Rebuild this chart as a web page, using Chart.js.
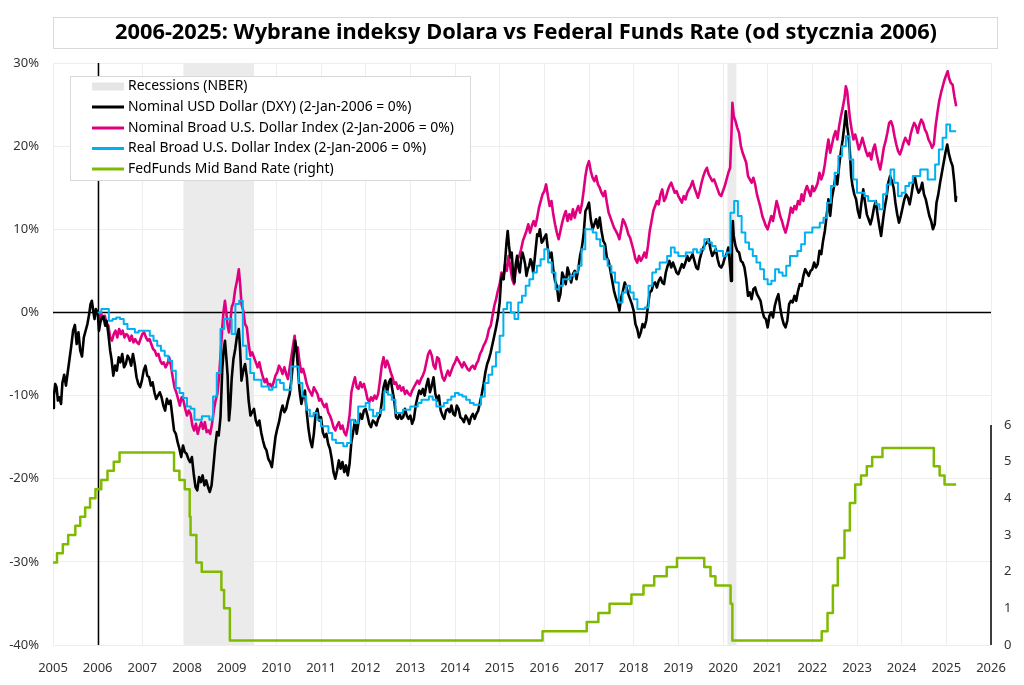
<!DOCTYPE html>
<html>
<head>
<meta charset="utf-8">
<script src="https://cdn.jsdelivr.net/npm/chart.js@4.4.1/dist/chart.umd.min.js"></script>
<style>
  html, body { margin: 0; padding: 0; background: #fff; }
  #wrap { width: 1024px; height: 685px; position: relative; }
</style>
</head>
<body>
<div id="wrap"><canvas id="c"></canvas></div>
<script>
// ---------- DATA ----------
const titleText = '2006-2025: Wybrane indeksy Dolara vs Federal Funds Rate (od stycznia 2006)';
const legendLabels = ['Recessions (NBER)', 'Nominal USD Dollar (DXY) (2-Jan-2006 = 0%)', 'Nominal Broad U.S. Dollar Index (2-Jan-2006 = 0%)', 'Real Broad U.S. Dollar Index (2-Jan-2006 = 0%)', 'FedFunds Mid Band Rate (right)'];
const recessions = [[2007.92, 2009.50], [2020.10, 2020.30]];
const baseYear = 2006.0;
const rightTicks = [0, 1, 2, 3, 4, 5, 6];

// Nominal USD Dollar (DXY), % vs 2-Jan-2006  [decimal year, %]
const dxyPct = [[2005.00,-11.5],[2005.02,-10.0],[2005.05,-8.6],[2005.08,-9.0],[2005.11,-10.6],[2005.14,-10.2],[2005.18,-11.0],[2005.21,-8.5],[2005.25,-7.5],[2005.29,-8.8],[2005.33,-7.2],[2005.37,-5.6],[2005.41,-4.0],[2005.45,-2.2],[2005.49,-1.5],[2005.53,-3.8],[2005.57,-2.4],[2005.61,-4.6],[2005.65,-5.3],[2005.69,-3.0],[2005.73,-2.2],[2005.77,-1.4],[2005.81,-0.2],[2005.84,1.0],[2005.87,1.4],[2005.90,0.2],[2005.93,-0.8],[2005.96,0.4],
[2006.00,0.0],[2006.03,-2.2],[2006.06,-1.2],[2006.10,-0.6],[2006.13,-0.5],[2006.17,-1.6],[2006.20,-1.0],[2006.24,-2.6],[2006.28,-4.6],[2006.31,-5.6],[2006.35,-7.6],[2006.39,-6.4],[2006.43,-7.0],[2006.47,-5.4],[2006.51,-6.0],[2006.55,-5.0],[2006.59,-6.6],[2006.63,-6.2],[2006.67,-5.2],[2006.71,-5.6],[2006.75,-6.4],[2006.79,-5.0],[2006.83,-6.2],[2006.87,-7.8],[2006.91,-8.6],[2006.95,-9.0],[2006.99,-8.2],
[2007.03,-7.0],[2007.07,-6.4],[2007.11,-7.6],[2007.15,-7.8],[2007.19,-8.8],[2007.23,-8.4],[2007.27,-9.6],[2007.31,-10.4],[2007.35,-10.0],[2007.39,-9.6],[2007.43,-10.2],[2007.47,-11.2],[2007.51,-11.8],[2007.55,-10.4],[2007.59,-11.0],[2007.63,-10.6],[2007.67,-12.4],[2007.71,-14.2],[2007.75,-14.6],[2007.79,-15.6],[2007.83,-16.4],[2007.87,-17.4],[2007.91,-16.0],[2007.95,-16.8],[2007.99,-17.0],
[2008.03,-17.6],[2008.07,-18.0],[2008.11,-17.4],[2008.15,-19.4],[2008.19,-21.0],[2008.23,-21.4],[2008.27,-19.8],[2008.31,-20.4],[2008.35,-19.6],[2008.39,-20.8],[2008.43,-20.2],[2008.47,-21.0],[2008.51,-21.6],[2008.55,-20.8],[2008.59,-18.6],[2008.63,-16.2],[2008.67,-14.4],[2008.71,-14.8],[2008.75,-12.6],[2008.79,-6.8],[2008.82,-4.6],[2008.85,-3.4],[2008.88,-5.4],[2008.91,-7.6],[2008.94,-13.0],[2008.97,-11.2],
[2009.00,-8.0],[2009.04,-5.6],[2009.08,-4.4],[2009.12,-2.8],[2009.16,-2.0],[2009.19,-4.6],[2009.22,-8.2],[2009.26,-7.0],[2009.30,-6.2],[2009.34,-7.8],[2009.38,-10.6],[2009.42,-12.4],[2009.46,-12.0],[2009.50,-11.6],[2009.54,-13.0],[2009.58,-13.6],[2009.62,-13.0],[2009.66,-14.4],[2009.70,-15.4],[2009.74,-16.2],[2009.78,-16.6],[2009.82,-17.6],[2009.86,-18.0],[2009.90,-18.6],[2009.94,-16.8],[2009.98,-15.0],
[2010.02,-14.0],[2010.06,-13.2],[2010.10,-12.0],[2010.14,-11.2],[2010.18,-12.0],[2010.22,-11.6],[2010.26,-10.6],[2010.30,-9.8],[2010.34,-8.0],[2010.38,-5.6],[2010.42,-3.4],[2010.45,-4.4],[2010.48,-6.4],[2010.52,-9.4],[2010.56,-11.0],[2010.60,-10.0],[2010.64,-9.4],[2010.68,-12.0],[2010.72,-14.0],[2010.76,-15.4],[2010.80,-16.2],[2010.84,-14.6],[2010.88,-12.2],[2010.92,-11.6],[2010.96,-13.0],
[2011.00,-12.6],[2011.04,-14.4],[2011.08,-15.0],[2011.12,-14.6],[2011.16,-15.8],[2011.20,-16.4],[2011.24,-17.6],[2011.28,-19.2],[2011.32,-20.0],[2011.36,-19.0],[2011.40,-17.8],[2011.44,-18.8],[2011.48,-18.0],[2011.52,-19.2],[2011.56,-18.4],[2011.60,-19.6],[2011.64,-18.2],[2011.68,-15.6],[2011.72,-14.4],[2011.76,-13.0],[2011.80,-14.6],[2011.84,-13.2],[2011.88,-12.2],[2011.92,-12.8],[2011.96,-11.8],
[2012.00,-11.6],[2012.04,-12.4],[2012.08,-13.4],[2012.12,-13.8],[2012.16,-13.0],[2012.20,-13.2],[2012.24,-13.6],[2012.28,-12.8],[2012.32,-12.4],[2012.36,-10.8],[2012.40,-9.0],[2012.44,-8.2],[2012.48,-9.6],[2012.52,-8.4],[2012.56,-8.0],[2012.60,-9.4],[2012.64,-10.6],[2012.68,-12.6],[2012.72,-12.8],[2012.76,-12.2],[2012.80,-12.8],[2012.84,-12.6],[2012.88,-11.6],[2012.92,-12.4],[2012.96,-12.8],
[2013.00,-12.4],[2013.04,-13.4],[2013.08,-12.8],[2013.12,-11.2],[2013.16,-10.2],[2013.20,-9.4],[2013.24,-9.8],[2013.28,-9.2],[2013.32,-10.0],[2013.36,-8.8],[2013.40,-8.0],[2013.44,-9.6],[2013.48,-8.8],[2013.52,-7.8],[2013.56,-9.8],[2013.60,-10.6],[2013.64,-10.0],[2013.68,-11.8],[2013.72,-12.4],[2013.76,-12.8],[2013.80,-11.8],[2013.84,-11.6],[2013.88,-12.0],[2013.92,-11.2],[2013.96,-12.2],
[2014.00,-12.4],[2014.04,-11.2],[2014.08,-11.6],[2014.12,-12.6],[2014.16,-12.8],[2014.20,-13.2],[2014.24,-12.4],[2014.28,-12.8],[2014.32,-13.4],[2014.36,-12.6],[2014.40,-12.2],[2014.44,-12.8],[2014.48,-12.2],[2014.52,-11.8],[2014.56,-10.8],[2014.60,-9.8],[2014.64,-8.6],[2014.68,-7.2],[2014.72,-6.2],[2014.76,-5.6],[2014.80,-4.8],[2014.84,-3.8],[2014.88,-2.8],[2014.92,-1.8],[2014.96,-0.6],
[2015.00,1.2],[2015.03,3.8],[2015.06,4.6],[2015.09,4.0],[2015.12,6.0],[2015.15,8.2],[2015.18,9.8],[2015.21,8.0],[2015.24,6.6],[2015.27,7.2],[2015.30,4.6],[2015.33,3.6],[2015.36,5.8],[2015.39,6.8],[2015.42,5.4],[2015.45,4.8],[2015.48,6.4],[2015.51,7.2],[2015.54,6.6],[2015.57,5.8],[2015.60,4.4],[2015.63,5.2],[2015.66,5.6],[2015.69,6.4],[2015.72,6.0],[2015.75,4.8],[2015.78,6.2],[2015.81,7.8],[2015.84,9.4],[2015.87,9.2],[2015.90,10.0],[2015.94,8.4],[2015.97,8.6],
[2016.00,9.0],[2016.04,9.4],[2016.08,7.6],[2016.12,6.6],[2016.16,7.2],[2016.20,5.2],[2016.24,3.8],[2016.28,3.2],[2016.32,1.4],[2016.36,2.2],[2016.40,4.8],[2016.44,4.2],[2016.48,3.4],[2016.52,5.4],[2016.56,4.6],[2016.60,3.6],[2016.64,4.6],[2016.68,5.0],[2016.72,4.0],[2016.76,5.2],[2016.80,6.8],[2016.84,7.8],[2016.88,9.4],[2016.92,12.2],[2016.96,12.6],
[2017.00,13.2],[2017.04,11.2],[2017.08,10.0],[2017.12,10.6],[2017.16,11.2],[2017.20,10.2],[2017.24,11.4],[2017.28,9.8],[2017.32,8.6],[2017.36,8.2],[2017.40,6.6],[2017.44,6.2],[2017.48,5.0],[2017.52,3.8],[2017.56,2.6],[2017.60,1.8],[2017.64,1.2],[2017.68,0.2],[2017.72,1.8],[2017.76,2.6],[2017.80,3.6],[2017.84,3.0],[2017.88,2.2],[2017.92,1.6],[2017.96,1.0],
[2018.00,0.2],[2018.04,-1.4],[2018.08,-2.0],[2018.12,-3.0],[2018.16,-2.4],[2018.20,-1.4],[2018.24,-1.8],[2018.28,-1.0],[2018.32,0.8],[2018.36,2.4],[2018.40,2.6],[2018.44,3.4],[2018.48,3.6],[2018.52,3.0],[2018.56,3.8],[2018.60,4.2],[2018.64,3.6],[2018.68,3.4],[2018.72,4.8],[2018.76,5.6],[2018.80,6.2],[2018.84,5.4],[2018.88,6.0],[2018.92,5.4],[2018.96,4.8],
[2019.00,4.6],[2019.04,5.2],[2019.08,5.8],[2019.12,5.4],[2019.16,6.0],[2019.20,6.8],[2019.24,6.2],[2019.28,6.6],[2019.32,7.0],[2019.36,6.2],[2019.40,5.4],[2019.44,5.2],[2019.48,6.4],[2019.52,7.2],[2019.56,7.8],[2019.60,8.2],[2019.64,8.4],[2019.68,8.8],[2019.72,7.6],[2019.76,6.8],[2019.80,7.2],[2019.84,7.6],[2019.88,6.4],[2019.92,5.6],[2019.96,5.4],
[2020.00,5.8],[2020.04,6.6],[2020.08,7.0],[2020.12,7.8],[2020.16,5.4],[2020.18,3.8],[2020.20,8.8],[2020.22,11.0],[2020.24,9.2],[2020.28,8.0],[2020.32,7.4],[2020.36,7.2],[2020.40,6.2],[2020.44,6.0],[2020.48,5.4],[2020.52,4.0],[2020.56,2.0],[2020.60,2.4],[2020.64,1.6],[2020.68,2.8],[2020.72,3.0],[2020.76,2.2],[2020.80,1.8],[2020.84,1.4],[2020.88,0.2],[2020.92,-0.6],[2020.96,-0.8],
[2021.00,-1.8],[2021.04,-0.4],[2021.08,0.0],[2021.12,-0.6],[2021.16,0.8],[2021.20,1.6],[2021.24,2.2],[2021.28,0.6],[2021.32,-0.6],[2021.36,-1.4],[2021.40,-1.8],[2021.44,-1.0],[2021.48,1.0],[2021.52,1.4],[2021.56,1.2],[2021.60,2.0],[2021.64,1.4],[2021.68,2.6],[2021.72,3.4],[2021.76,3.2],[2021.80,4.4],[2021.84,5.2],[2021.88,4.8],[2021.92,4.4],[2021.96,5.0],
[2022.00,5.2],[2022.04,6.0],[2022.08,5.4],[2022.12,5.8],[2022.16,7.4],[2022.20,7.0],[2022.24,8.6],[2022.28,9.8],[2022.32,11.6],[2022.36,13.6],[2022.40,11.6],[2022.44,13.8],[2022.48,15.0],[2022.52,16.4],[2022.56,15.4],[2022.60,17.6],[2022.64,19.4],[2022.68,20.8],[2022.72,22.6],[2022.75,24.2],[2022.78,22.4],[2022.81,21.2],[2022.84,19.4],[2022.87,16.4],[2022.90,15.2],[2022.94,14.2],[2022.98,13.6],
[2023.02,12.2],[2023.06,11.4],[2023.10,13.2],[2023.14,14.8],[2023.18,13.2],[2023.22,11.8],[2023.26,11.2],[2023.30,10.6],[2023.34,11.4],[2023.38,12.6],[2023.42,13.4],[2023.46,11.8],[2023.50,10.4],[2023.54,9.2],[2023.58,11.0],[2023.62,12.6],[2023.66,13.8],[2023.70,15.6],[2023.74,16.4],[2023.78,15.8],[2023.82,15.0],[2023.86,13.2],[2023.90,11.8],[2023.94,10.8],[2023.98,11.6],
[2024.02,12.6],[2024.06,13.6],[2024.10,14.2],[2024.14,13.8],[2024.18,13.0],[2024.22,14.2],[2024.26,15.6],[2024.30,16.2],[2024.34,15.0],[2024.38,14.4],[2024.42,14.8],[2024.46,15.6],[2024.50,14.2],[2024.54,13.6],[2024.58,12.6],[2024.62,11.6],[2024.66,11.0],[2024.70,10.0],[2024.74,10.6],[2024.78,13.2],[2024.82,14.2],[2024.86,15.6],[2024.90,16.8],[2024.94,18.0],[2024.98,19.2],
[2025.02,20.2],[2025.06,19.0],[2025.10,18.2],[2025.14,17.6],[2025.18,15.6],[2025.21,13.4],[2025.22,14.0]];

// Nominal Broad U.S. Dollar Index, % vs 2-Jan-2006
const broadNominalPct = [[2006.00,0.0],[2006.04,-0.8],[2006.08,-0.2],[2006.12,-0.6],[2006.16,-0.4],[2006.20,-1.4],[2006.24,-1.6],[2006.28,-3.0],[2006.32,-3.4],[2006.36,-2.6],[2006.40,-2.2],[2006.44,-3.0],[2006.48,-2.0],[2006.52,-2.6],[2006.56,-2.2],[2006.60,-3.0],[2006.64,-2.6],[2006.68,-2.8],[2006.72,-3.4],[2006.76,-2.8],[2006.80,-3.6],[2006.84,-3.2],[2006.88,-3.6],[2006.92,-3.8],[2006.96,-3.2],
[2007.00,-2.6],[2007.04,-2.4],[2007.08,-3.0],[2007.12,-3.4],[2007.16,-3.2],[2007.20,-3.8],[2007.24,-4.4],[2007.28,-4.6],[2007.32,-5.2],[2007.36,-5.0],[2007.40,-5.8],[2007.44,-6.2],[2007.48,-6.0],[2007.52,-6.6],[2007.56,-6.2],[2007.60,-5.4],[2007.64,-6.4],[2007.68,-7.8],[2007.72,-9.0],[2007.76,-9.6],[2007.80,-10.4],[2007.84,-11.2],[2007.88,-10.2],[2007.92,-10.6],[2007.96,-11.6],
[2008.00,-12.4],[2008.04,-11.8],[2008.08,-12.2],[2008.12,-13.6],[2008.16,-14.2],[2008.20,-13.4],[2008.24,-14.6],[2008.28,-13.8],[2008.32,-13.2],[2008.36,-14.0],[2008.40,-13.2],[2008.44,-14.4],[2008.48,-14.2],[2008.52,-14.6],[2008.56,-13.4],[2008.60,-11.8],[2008.64,-10.6],[2008.68,-9.8],[2008.72,-7.6],[2008.76,-4.4],[2008.79,-1.8],[2008.82,0.2],[2008.85,1.4],[2008.88,0.0],[2008.91,-1.6],[2008.94,-2.4],[2008.97,-1.2],
[2009.00,0.6],[2009.04,1.2],[2009.08,2.8],[2009.12,3.8],[2009.16,5.2],[2009.19,3.4],[2009.22,1.0],[2009.26,0.2],[2009.30,-1.4],[2009.34,-1.8],[2009.38,-3.8],[2009.42,-5.2],[2009.46,-4.8],[2009.50,-5.4],[2009.54,-6.0],[2009.58,-6.6],[2009.62,-6.0],[2009.66,-7.0],[2009.70,-7.8],[2009.74,-8.4],[2009.78,-8.0],[2009.82,-8.8],[2009.86,-8.6],[2009.90,-9.0],[2009.94,-8.4],[2009.98,-7.6],
[2010.02,-7.2],[2010.06,-6.4],[2010.10,-6.8],[2010.14,-7.4],[2010.18,-6.6],[2010.22,-7.4],[2010.26,-8.0],[2010.30,-6.6],[2010.34,-5.2],[2010.38,-3.8],[2010.41,-2.8],[2010.44,-4.4],[2010.48,-4.2],[2010.52,-6.0],[2010.56,-7.2],[2010.60,-6.8],[2010.64,-7.6],[2010.68,-8.6],[2010.72,-9.2],[2010.76,-9.6],[2010.80,-10.0],[2010.84,-9.0],[2010.88,-9.4],[2010.92,-9.8],[2010.96,-10.6],
[2011.00,-10.4],[2011.04,-11.0],[2011.08,-11.4],[2011.12,-11.0],[2011.16,-12.0],[2011.20,-12.4],[2011.24,-13.0],[2011.28,-13.8],[2011.32,-14.2],[2011.36,-13.6],[2011.40,-13.2],[2011.44,-14.0],[2011.48,-13.6],[2011.52,-14.4],[2011.56,-14.8],[2011.60,-13.8],[2011.64,-12.4],[2011.68,-9.6],[2011.72,-8.6],[2011.76,-7.8],[2011.80,-9.0],[2011.84,-9.2],[2011.88,-8.4],[2011.92,-9.0],[2011.96,-8.6],
[2012.00,-9.4],[2012.04,-10.4],[2012.08,-10.8],[2012.12,-10.2],[2012.16,-10.6],[2012.20,-10.0],[2012.24,-10.4],[2012.28,-9.8],[2012.32,-8.2],[2012.36,-6.4],[2012.40,-5.4],[2012.44,-6.6],[2012.48,-5.8],[2012.52,-6.4],[2012.56,-7.2],[2012.60,-7.8],[2012.64,-8.6],[2012.68,-8.4],[2012.72,-9.2],[2012.76,-8.8],[2012.80,-9.4],[2012.84,-9.0],[2012.88,-9.8],[2012.92,-9.4],[2012.96,-9.8],
[2013.00,-10.0],[2013.04,-9.4],[2013.08,-9.0],[2013.12,-8.6],[2013.16,-8.2],[2013.20,-8.6],[2013.24,-8.0],[2013.28,-7.6],[2013.32,-7.0],[2013.36,-6.0],[2013.40,-5.0],[2013.44,-4.6],[2013.48,-5.2],[2013.52,-6.4],[2013.56,-6.8],[2013.60,-5.4],[2013.64,-5.6],[2013.68,-6.8],[2013.72,-7.8],[2013.76,-8.2],[2013.80,-7.6],[2013.84,-7.0],[2013.88,-7.6],[2013.92,-7.0],[2013.96,-6.4],
[2014.00,-6.0],[2014.04,-5.4],[2014.08,-5.8],[2014.12,-6.2],[2014.16,-6.6],[2014.20,-6.0],[2014.24,-6.4],[2014.28,-6.8],[2014.32,-7.0],[2014.36,-6.6],[2014.40,-6.4],[2014.44,-6.8],[2014.48,-6.2],[2014.52,-5.8],[2014.56,-5.0],[2014.60,-4.6],[2014.64,-4.0],[2014.68,-3.6],[2014.72,-3.0],[2014.76,-2.0],[2014.80,-1.6],[2014.84,-0.4],[2014.88,0.8],[2014.92,1.6],[2014.96,2.6],
[2015.00,3.4],[2015.04,4.8],[2015.08,4.0],[2015.12,5.8],[2015.16,5.0],[2015.20,6.8],[2015.24,5.4],[2015.28,4.0],[2015.32,3.4],[2015.36,5.2],[2015.40,6.4],[2015.44,6.8],[2015.48,7.6],[2015.52,8.6],[2015.56,9.2],[2015.60,9.8],[2015.64,10.6],[2015.68,9.6],[2015.72,10.4],[2015.76,11.0],[2015.80,10.4],[2015.84,11.4],[2015.88,12.6],[2015.92,13.4],[2015.96,14.2],
[2016.00,14.6],[2016.04,15.4],[2016.08,14.0],[2016.12,12.8],[2016.16,13.4],[2016.20,11.8],[2016.24,10.6],[2016.28,9.6],[2016.32,8.8],[2016.36,9.8],[2016.40,10.8],[2016.44,11.6],[2016.48,12.2],[2016.52,11.0],[2016.56,11.8],[2016.60,11.2],[2016.64,12.4],[2016.68,11.4],[2016.72,12.2],[2016.76,12.8],[2016.80,12.0],[2016.84,13.0],[2016.88,14.6],[2016.92,16.4],[2016.96,17.6],
[2017.00,18.2],[2017.04,17.0],[2017.08,16.2],[2017.12,15.8],[2017.16,16.4],[2017.20,15.4],[2017.24,15.0],[2017.28,14.4],[2017.32,14.0],[2017.36,14.6],[2017.40,13.2],[2017.44,12.0],[2017.48,11.4],[2017.52,10.8],[2017.56,10.2],[2017.60,9.8],[2017.64,9.4],[2017.68,8.8],[2017.72,10.0],[2017.76,11.2],[2017.80,10.8],[2017.84,10.2],[2017.88,9.4],[2017.92,9.0],[2017.96,8.2],
[2018.00,7.4],[2018.04,6.4],[2018.08,6.0],[2018.12,6.8],[2018.16,6.2],[2018.20,6.6],[2018.24,7.2],[2018.28,6.6],[2018.32,8.0],[2018.36,9.8],[2018.40,11.0],[2018.44,12.2],[2018.48,12.8],[2018.52,13.4],[2018.56,13.0],[2018.60,14.2],[2018.64,14.8],[2018.68,13.4],[2018.72,13.8],[2018.76,14.6],[2018.80,15.2],[2018.84,15.6],[2018.88,15.0],[2018.92,14.4],[2018.96,14.6],
[2019.00,14.0],[2019.04,13.6],[2019.08,13.2],[2019.12,14.0],[2019.16,13.6],[2019.20,14.4],[2019.24,14.8],[2019.28,15.2],[2019.32,15.8],[2019.36,15.0],[2019.40,14.4],[2019.44,13.8],[2019.48,14.6],[2019.52,15.6],[2019.56,16.4],[2019.60,17.0],[2019.64,17.4],[2019.68,16.6],[2019.72,16.2],[2019.76,15.8],[2019.80,16.0],[2019.84,15.4],[2019.88,14.8],[2019.92,14.2],[2019.96,14.0],
[2020.00,14.6],[2020.04,15.2],[2020.08,16.0],[2020.12,16.8],[2020.16,17.4],[2020.19,21.6],[2020.21,25.2],[2020.24,23.6],[2020.28,23.0],[2020.32,22.2],[2020.36,21.6],[2020.40,20.0],[2020.44,19.2],[2020.48,18.6],[2020.52,18.0],[2020.56,16.4],[2020.60,16.0],[2020.64,15.6],[2020.68,16.2],[2020.72,15.4],[2020.76,14.2],[2020.80,13.4],[2020.84,12.6],[2020.88,11.6],[2020.92,11.0],[2020.96,10.4],
[2021.00,10.0],[2021.04,10.8],[2021.08,11.6],[2021.12,11.0],[2021.16,12.2],[2021.20,13.4],[2021.24,12.6],[2021.28,11.6],[2021.32,11.0],[2021.36,10.2],[2021.40,9.6],[2021.44,10.4],[2021.48,11.4],[2021.52,12.6],[2021.56,12.0],[2021.60,12.8],[2021.64,12.4],[2021.68,13.4],[2021.72,13.0],[2021.76,14.2],[2021.80,13.4],[2021.84,14.6],[2021.88,15.2],[2021.92,14.6],[2021.96,14.0],
[2022.00,15.2],[2022.04,14.6],[2022.08,15.0],[2022.12,15.6],[2022.16,16.8],[2022.20,16.0],[2022.24,16.6],[2022.28,17.8],[2022.32,19.4],[2022.36,20.8],[2022.40,19.2],[2022.44,20.2],[2022.48,21.2],[2022.52,21.8],[2022.56,20.8],[2022.60,22.4],[2022.64,23.6],[2022.68,24.6],[2022.72,25.8],[2022.75,27.2],[2022.78,26.6],[2022.81,25.0],[2022.84,23.4],[2022.88,22.0],[2022.92,20.8],[2022.96,21.4],
[2023.00,20.6],[2023.04,19.6],[2023.08,20.2],[2023.12,21.0],[2023.16,20.2],[2023.20,19.4],[2023.24,18.8],[2023.28,19.2],[2023.32,18.4],[2023.36,19.6],[2023.40,20.2],[2023.44,19.0],[2023.48,18.0],[2023.52,17.2],[2023.56,18.4],[2023.60,19.8],[2023.64,20.6],[2023.68,21.6],[2023.72,22.8],[2023.76,23.0],[2023.80,22.4],[2023.84,21.2],[2023.88,20.2],[2023.92,19.4],[2023.96,19.0],
[2024.00,19.6],[2024.04,20.4],[2024.08,21.0],[2024.12,20.6],[2024.16,20.2],[2024.20,21.4],[2024.24,22.2],[2024.28,22.8],[2024.32,22.4],[2024.36,21.6],[2024.40,22.6],[2024.44,23.2],[2024.48,22.8],[2024.52,22.0],[2024.56,21.6],[2024.60,20.8],[2024.64,20.4],[2024.68,19.8],[2024.72,20.2],[2024.76,22.4],[2024.80,24.0],[2024.84,25.4],[2024.88,26.4],[2024.92,27.2],[2024.96,28.0],
[2025.00,28.6],[2025.03,29.0],[2025.06,28.2],[2025.10,27.6],[2025.14,27.4],[2025.18,26.0],[2025.22,24.8]];

// Real Broad U.S. Dollar Index (monthly), % vs Jan-2006; one value per month from Jan 2006
const realBroadStart = 2006;
const realBroadPct = [
 0.0, 0.4, 0.4, -1.0, -0.8, -0.6, -0.8, -1.4, -2.0, -2.0, -2.4, -2.2,
 -2.2, -2.2, -2.8, -3.4, -4.0, -4.6, -5.2, -5.8, -7.0, -9.1, -9.7, -10.3,
 -11.3, -11.6, -12.9, -12.9, -12.5, -12.5, -12.9, -10.1, -7.3, -2.0, -0.8, -0.8,
 -2.6, 1.0, 1.4, -4.0, -5.6, -7.3, -8.1, -8.1, -8.9, -8.9, -9.3, -9.0,
 -8.1, -8.5, -9.3, -9.3, -6.5, -6.5, -8.5, -10.1, -11.7, -12.5, -12.1, -12.9,
 -13.7, -13.7, -14.5, -15.3, -15.7, -15.7, -16.1, -15.7, -12.9, -13.3, -11.3, -11.3,
 -10.9, -11.7, -12.5, -12.1, -11.7, -9.5, -9.9, -10.5, -12.1, -12.1, -11.7, -11.7,
 -11.3, -11.3, -10.9, -10.5, -10.5, -10.1, -10.5, -11.3, -11.3, -10.9, -10.5, -10.1,
 -9.7, -9.9, -10.1, -10.5, -10.9, -11.1, -11.1, -10.1, -8.5, -7.5, -6.5, -4.8,
 -2.8, 0.4, 1.2, 0.0, -0.8, 1.2, 2.0, 3.2, 4.0, 4.8, 5.6, 6.4,
 7.6, 6.0, 4.8, 2.8, 3.2, 4.0, 4.0, 4.4, 4.8, 5.6, 7.6, 10.0,
 10.0, 9.6, 8.8, 8.0, 6.4, 5.6, 4.8, 3.6, 1.2, 2.4, 3.2, 2.4,
 1.6, 0.4, 0.4, 0.6, 3.2, 4.8, 5.2, 6.0, 6.0, 6.8, 7.8, 7.2,
 6.8, 6.8, 7.2, 7.2, 7.6, 7.2, 7.6, 8.8, 8.4, 8.0, 7.4, 7.4,
 6.8, 7.2, 12.0, 13.4, 11.6, 9.6, 8.4, 7.6, 6.8, 6.0, 5.2, 4.0,
 3.4, 3.8, 5.2, 4.8, 4.4, 5.6, 6.8, 6.8, 7.4, 8.2, 9.6, 9.6,
 10.2, 10.2, 10.8, 11.4, 13.2, 15.2, 16.8, 18.8, 20.0, 21.2, 18.4, 16.0,
 14.4, 14.4, 14.0, 13.4, 13.4, 13.0, 12.4, 14.2, 15.4, 17.2, 15.6, 14.0,
 14.4, 15.2, 15.6, 16.4, 16.4, 17.2, 17.2, 16.0, 16.0, 17.8, 19.6, 21.0,
 22.6, 21.8, 21.8
];
const realBroadEnd = 2025.22;

// Fed Funds mid band rate, % [effective date as decimal year, level]
const fedFunds = [[2005.00,2.25],[2005.09,2.50],[2005.22,2.75],[2005.34,3.00],[2005.50,3.25],[2005.61,3.50],[2005.72,3.75],[2005.83,4.00],[2005.95,4.25],[2006.08,4.50],[2006.22,4.75],[2006.36,5.00],[2006.49,5.25],
[2007.71,4.75],[2007.83,4.50],[2007.95,4.25],[2008.06,3.50],[2008.08,3.00],[2008.21,2.25],[2008.33,2.00],[2008.77,1.50],[2008.83,1.00],[2008.96,0.125],
[2015.96,0.375],[2016.95,0.625],[2017.21,0.875],[2017.46,1.125],[2017.95,1.375],[2018.22,1.625],[2018.46,1.875],[2018.74,2.125],[2018.97,2.375],
[2019.58,2.125],[2019.72,1.875],[2019.83,1.625],[2020.17,1.125],[2020.21,0.125],
[2022.21,0.375],[2022.34,0.875],[2022.46,1.625],[2022.57,2.375],[2022.72,3.125],[2022.84,3.875],[2022.96,4.375],[2023.09,4.625],[2023.22,4.875],[2023.34,5.125],[2023.57,5.375],
[2024.72,4.875],[2024.85,4.625],[2024.96,4.375],[2025.22,4.375]];

// ---------- BUILD ----------
const toXY = arr => arr.map(p => ({x: p[0], y: p[1]}));
const realXY = realBroadPct.map((v, i) => ({x: realBroadStart + i / 12, y: v}));
realXY.push({x: realBroadEnd, y: realBroadPct[realBroadPct.length - 1]});

const COL = { dxy: '#000000', broad: '#E0007F', real: '#00B0F0', ff: '#7FBA00', rec: '#EBEBEB', grid: '#EEEEEE', text: '#333333' };
const FONT = "'Noto Sans', 'DejaVu Sans', sans-serif";

const overlay = {
  id: 'overlay',
  beforeDraw(chart) {
    const ctx = chart.ctx;
    ctx.save();
    ctx.fillStyle = '#fff';
    ctx.fillRect(0, 0, chart.width, chart.height);
    ctx.restore();
  },
  beforeDatasetsDraw(chart) {
    const {ctx, chartArea: a, scales} = chart;
    const x = scales.x, y = scales.y;
    ctx.save();
    ctx.fillStyle = COL.rec;
    recessions.forEach(r => {
      const x0 = x.getPixelForValue(r[0]), x1 = x.getPixelForValue(r[1]);
      ctx.fillRect(x0, a.top, x1 - x0, a.bottom - a.top);
    });
    ctx.strokeStyle = '#000';
    ctx.lineWidth = 1.5;
    const y0 = Math.round(y.getPixelForValue(0)) + 0.5;
    ctx.beginPath(); ctx.moveTo(a.left, y0); ctx.lineTo(a.right, y0); ctx.stroke();
    const xb = Math.round(x.getPixelForValue(baseYear)) + 0.5;
    ctx.beginPath(); ctx.moveTo(xb, a.top); ctx.lineTo(xb, a.bottom); ctx.stroke();
    ctx.restore();
  },
  afterDraw(chart) {
    const {ctx, chartArea: a, scales} = chart;
    ctx.save();
    const y2 = scales.y2;
    ctx.strokeStyle = '#000';
    ctx.lineWidth = 1.5;
    ctx.beginPath();
    ctx.moveTo(a.right, y2.getPixelForValue(rightTicks[rightTicks.length - 1]));
    ctx.lineTo(a.right, y2.getPixelForValue(0));
    ctx.stroke();

    // title box
    ctx.fillStyle = '#fff';
    ctx.fillRect(53, 17, 944, 31);
    ctx.strokeStyle = '#D9D9D9';
    ctx.lineWidth = 1;
    ctx.strokeRect(53.5, 17.5, 944, 31);
    ctx.font = "bold 22px " + FONT;
    ctx.fillStyle = '#000';
    ctx.textBaseline = 'middle';
    ctx.textAlign = 'left';
    const tw = ctx.measureText(titleText).width;
    const sx = 822 / tw;
    ctx.save();
    ctx.translate(115, 33);
    ctx.scale(sx, 1);
    ctx.fillText(titleText, 0, 0);
    ctx.restore();

    // legend box
    const lx = 70, ly = 76, lw = 400, lh = 104;
    ctx.fillStyle = '#fff';
    ctx.fillRect(lx, ly, lw, lh);
    ctx.strokeStyle = '#D9D9D9';
    ctx.strokeRect(lx + 0.5, ly + 0.5, lw, lh);
    ctx.font = "14px " + FONT;
    const mw = ctx.measureText(legendLabels[2]).width;
    const fs = 14 * 326 / mw;
    ctx.font = fs.toFixed(2) + "px " + FONT;
    const rows = [86.5, 107, 128, 148.5, 169];
    const cols = [null, COL.dxy, COL.broad, COL.real, COL.ff];
    rows.forEach((ry, i) => {
      if (i === 0) {
        ctx.fillStyle = '#E6E6E6';
        ctx.fillRect(92, ry - 4, 32, 8);
      } else {
        ctx.strokeStyle = cols[i];
        ctx.lineWidth = 3;
        ctx.beginPath(); ctx.moveTo(92, ry); ctx.lineTo(124, ry); ctx.stroke();
      }
      ctx.fillStyle = '#000';
      ctx.fillText(legendLabels[i], 128, ry);
    });
    ctx.restore();
  }
};

const common = { pointRadius: 0, pointHoverRadius: 0, fill: false, tension: 0, borderJoinStyle: 'round' };

new Chart(document.getElementById('c'), {
  type: 'line',
  data: {
    datasets: [
      Object.assign({ label: legendLabels[4], data: toXY(fedFunds), borderColor: COL.ff, borderWidth: 2.5, stepped: 'before', yAxisID: 'y2', order: 0 }, common),
      Object.assign({ label: legendLabels[3], data: realXY, borderColor: COL.real, borderWidth: 2, stepped: 'before', yAxisID: 'y', order: 1 }, common),
      Object.assign({ label: legendLabels[1], data: toXY(dxyPct), borderColor: COL.dxy, borderWidth: 2.6, yAxisID: 'y', order: 2 }, common),
      Object.assign({ label: legendLabels[2], data: toXY(broadNominalPct), borderColor: COL.broad, borderWidth: 2.6, yAxisID: 'y', order: 3 }, common)
    ]
  },
  options: {
    responsive: true,
    maintainAspectRatio: false,
    animation: false,
    events: [],
    layout: { padding: { top: 63, left: 0, right: 0, bottom: 0 } },
    plugins: { legend: { display: false }, tooltip: { enabled: false }, title: { display: false } },
    scales: {
      x: {
        type: 'linear', min: 2005, max: 2026,
        grid: { color: COL.grid, lineWidth: 1, drawTicks: false },
        border: { display: false },
        ticks: { stepSize: 1, padding: 15, maxRotation: 0, autoSkip: false, color: COL.text, font: { family: FONT, size: 13 }, callback: v => String(Math.round(v)) },
        afterFit: s => { s.height = 40; }
      },
      y: {
        position: 'left', min: -40, max: 30,
        grid: { color: COL.grid, lineWidth: 1, drawTicks: false },
        border: { display: false },
        ticks: { stepSize: 10, padding: 14, color: COL.text, font: { family: FONT, size: 13 }, callback: v => v + '%' },
        afterFit: s => { s.width = 53; }
      },
      y2: {
        position: 'right', min: 0, max: 6 * 582 / 220,
        grid: { display: false, drawTicks: false },
        border: { display: false },
        ticks: { padding: 13, color: COL.text, font: { family: FONT, size: 13 } },
        afterBuildTicks: s => { s.ticks = rightTicks.map(v => ({ value: v })); },
        afterFit: s => { s.width = 33; }
      }
    }
  },
  plugins: [overlay]
});
</script>
</body>
</html>
